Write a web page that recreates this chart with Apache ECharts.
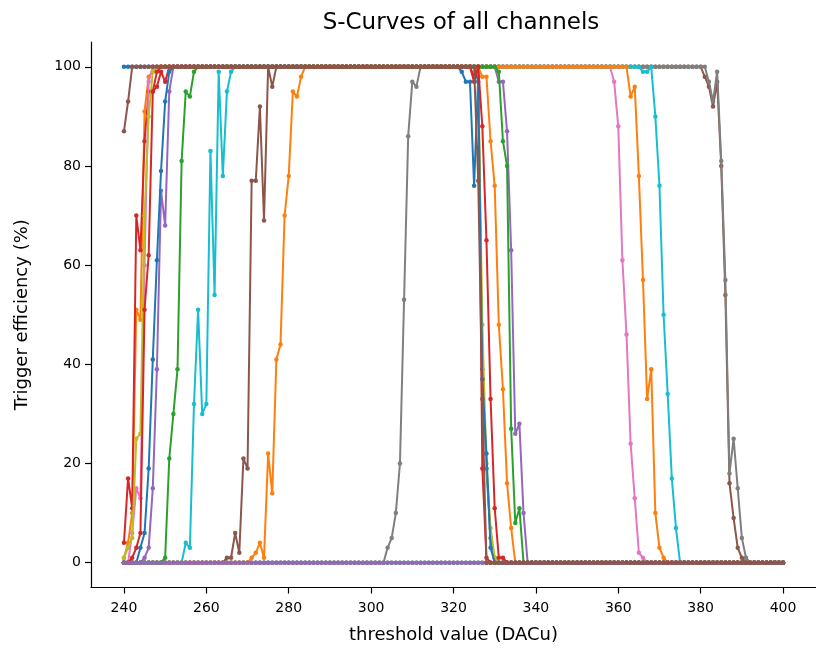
<!DOCTYPE html>
<html><head><meta charset="utf-8">
<script src="https://cdn.jsdelivr.net/npm/echarts@6/dist/echarts.min.js"></script>
<style>html,body{margin:0;padding:0;background:#fff}#c{width:816px;height:651px}</style>
</head><body><div id="c"></div>
<script>
// threshold scan range (DACu), one point per DAC unit
const thresholdMin = 240;
const thresholdMax = 400;
const xTicks = [240, 260, 280, 300, 320, 340, 360, 380, 400];
const yTicks = [0, 20, 40, 60, 80, 100];
const channelColors = ['#1f77b4','#ff7f0e','#2ca02c','#d62728','#9467bd','#8c564b','#e377c2','#7f7f7f','#bcbd22','#17becf',
                       '#1f77b4','#ff7f0e','#2ca02c','#d62728','#9467bd','#8c564b'];

// Rising edge: [first threshold, values...]  (0 % before, 100 % after)
// Falling edge: [first threshold, values...] (100 % before, 0 % after)
// null rising edge = dead channel (0 % everywhere)
const ch00Rise = [240];
const ch00Fall = [322, 99, 97, 97, 76, 98, 39, 19, 5, 1];
const ch01Rise = [240, 1, 4, 10, 51, 49, 91, 98, 99];
const ch01Fall = [327, 98, 98, 85, 76, 48, 35, 16, 7];
const ch02Rise = null;
const ch02Fall = null;
const ch03Rise = [240, 4, 17, 11, 70, 63, 85, 95, 95, 96, 99, 97];
const ch03Fall = [325, 98, 100, 19, 1];
const ch04Rise = [245, 1, 3, 15, 39, 75, 68, 95];
const ch04Fall = [331, 97, 97, 87, 63, 26, 28, 10];
const ch05Rise = [265, 1, 1, 6, 2, 21, 19, 77, 77, 92, 69, 100, 96];
const ch05Fall = [381, 98, 96, 92, 97, 80, 54, 16, 9, 3, 1];
const ch06Rise = [242, 6, 15, 13, 60, 97];
const ch06Fall = [359, 97, 88, 61, 46, 24, 13, 2, 1];
const ch07Rise = [304, 3, 5, 10, 20, 53, 86, 97, 96];
const ch07Fall = [382, 97, 93, 99, 81, 57, 18, 25, 15, 5, 1];
const ch08Rise = [240, 1, 3, 5, 25, 26, 70, 90, 99];
const ch08Fall = [326, 99, 48, 20, 7, 1];
const ch09Rise = [255, 4, 3, 32, 51, 30, 32, 83, 54, 99, 78, 95, 99];
const ch09Fall = [366, 99, 99, 100, 90, 76, 50, 34, 17, 7];
const ch10Rise = [243, 0, 3, 6, 19, 41, 61, 79, 93, 99];
const ch10Fall = [326, 97, 37, 22, 3];
const ch11Rise = [271, 1, 2, 4, 1, 22, 14, 41, 44, 70, 78, 95, 94, 98];
const ch11Fall = [363, 94, 96, 78, 57, 33, 39, 10, 3, 1];
const ch12Rise = [250, 1, 21, 30, 39, 81, 95, 94, 99];
const ch12Fall = [331, 99, 85, 80, 27, 8, 11];
const ch13Rise = [240, 0, 0, 1, 3, 6, 51, 62, 95, 99];
const ch13Fall = [325, 97, 100, 88, 65, 33, 11, 1, 1];
const ch14Rise = null;
const ch14Fall = null;
const ch15Rise = [240, 87, 93];
const ch15Fall = [326, 77, 33];

const channels = [
  [ch00Rise, ch00Fall], [ch01Rise, ch01Fall], [ch02Rise, ch02Fall], [ch03Rise, ch03Fall],
  [ch04Rise, ch04Fall], [ch05Rise, ch05Fall], [ch06Rise, ch06Fall], [ch07Rise, ch07Fall],
  [ch08Rise, ch08Fall], [ch09Rise, ch09Fall], [ch10Rise, ch10Fall], [ch11Rise, ch11Fall],
  [ch12Rise, ch12Fall], [ch13Rise, ch13Fall], [ch14Rise, ch14Fall], [ch15Rise, ch15Fall]
];

function buildCurve(rise, fall) {
  const pts = [];
  for (let t = thresholdMin; t <= thresholdMax; t++) {
    let v;
    if (!rise) v = 0;
    else {
      const rs = rise[0], rv = rise.slice(1), fs = fall[0], fv = fall.slice(1);
      if (t < rs) v = 0;
      else if (t - rs < rv.length) v = rv[t - rs];
      else if (t < fs) v = 100;
      else if (t - fs < fv.length) v = fv[t - fs];
      else v = 0;
    }
    pts.push([t, v]);
  }
  return pts;
}

const FONT = 'DejaVu Sans';
const series = channels.map((c, i) => ({
  name: 'ch' + i,
  type: 'line',
  data: buildCurve(c[0], c[1]),
  color: channelColors[i],
  symbol: 'circle',
  symbolSize: 4.5,
  showAllSymbol: true,
  lineStyle: { width: 2, color: channelColors[i] },
  itemStyle: { color: channelColors[i] },
  z: 2 + i,
  emphasis: { disabled: true },
  silent: true
}));

const chart = echarts.init(document.getElementById('c'), null, { renderer: 'canvas' });
chart.setOption({
  animation: false,
  backgroundColor: '#fff',
  title: {
    text: 'S-Curves of all channels',
    left: 456, top: 7, textAlign: 'center',
    textStyle: { fontFamily: FONT, fontSize: 23, fontWeight: 'normal', color: '#000' }
  },
  grid: { left: 91, top: 42, width: 732.6, height: 545.5, containLabel: false },
  xAxis: {
    type: 'value', min: 232, max: 408,
    name: 'threshold value (DACu)', nameLocation: 'middle', nameGap: 39,
    nameTextStyle: { fontFamily: FONT, fontSize: 18, color: '#000' },
    axisLine: { show: true, onZero: false, lineStyle: { color: '#000', width: 1.2 } },
    axisTick: { show: true, length: 6, customValues: xTicks, lineStyle: { color: '#000', width: 1.2 } },
    axisLabel: { customValues: xTicks, fontFamily: FONT, fontSize: 14, color: '#000', margin: 14 },
    splitLine: { show: false }
  },
  yAxis: {
    type: 'value', min: -5, max: 105,
    name: 'Trigger efficiency (%)', nameLocation: 'middle', nameGap: 60, nameRotate: 90,
    nameTextStyle: { fontFamily: FONT, fontSize: 18, color: '#000' },
    axisLine: { show: true, onZero: false, lineStyle: { color: '#000', width: 1.2 } },
    axisTick: { show: true, length: 6, customValues: yTicks, lineStyle: { color: '#000', width: 1.2 } },
    axisLabel: { customValues: yTicks, fontFamily: FONT, fontSize: 14, color: '#000', margin: 10 },
    splitLine: { show: false }
  },
  series: series
});
</script></body></html>
